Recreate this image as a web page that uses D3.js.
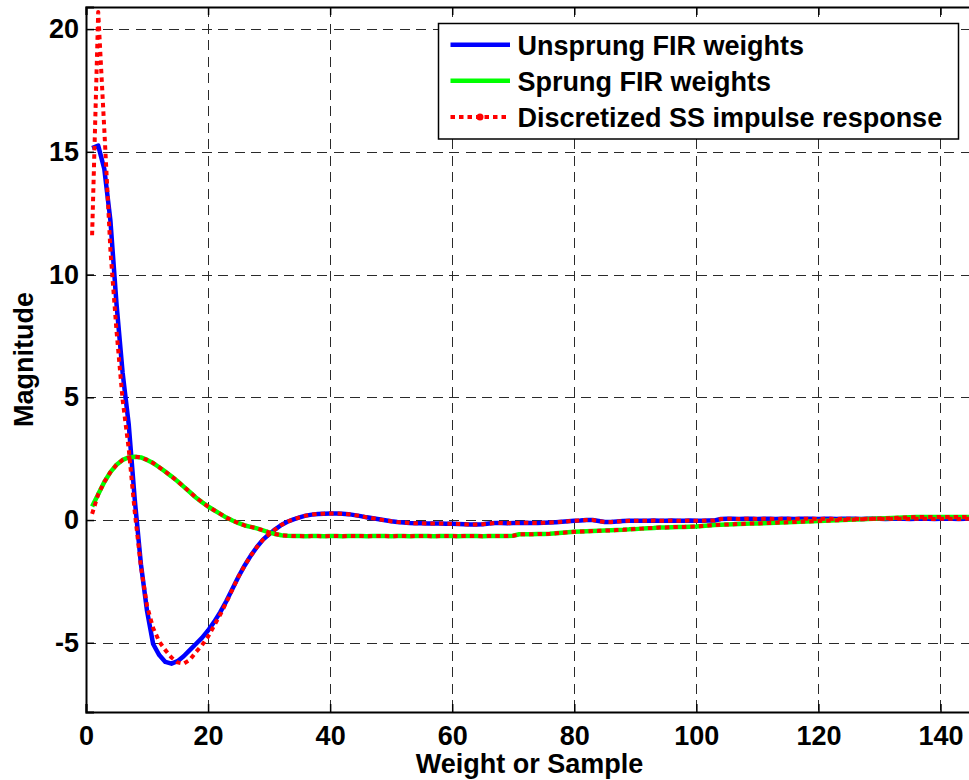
<!DOCTYPE html>
<html>
<head>
<meta charset="utf-8">
<script src="https://cdn.jsdelivr.net/npm/d3@7"></script>
<style>
  html, body { margin: 0; padding: 0; background: #fff; }
  svg { display: block; }
  text { font-family: "Liberation Sans", Arial, Helvetica, sans-serif; font-weight: bold; fill: #000; }
</style>
</head>
<body>
<svg id="chart" width="969" height="780"></svg>
<script>
// FIR weight estimates versus the discretized state-space impulse response.
const unsprungFIR = [
  15.15, 15.25, 14.3, 12.2, 8.8, 6.0, 3.9, 0.8, -1.8, -3.7,
  -5.05, -5.5, -5.78, -5.85, -5.75, -5.55, -5.3, -5.05, -4.8, -4.5,
  -4.15, -3.75, -3.3, -2.8, -2.3, -1.85, -1.45, -1.1, -0.8, -0.58,
  -0.38, -0.2, -0.07, 0.03, 0.11, 0.18, 0.22, 0.25, 0.26, 0.27,
  0.27, 0.26, 0.24, 0.2, 0.16, 0.11, 0.07, 0.03, -0.01, -0.05,
  -0.08, -0.1, -0.12, -0.13, -0.13, -0.14, -0.14, -0.14, -0.15, -0.15,
  -0.16, -0.17, -0.18, -0.18, -0.17, -0.14, -0.12, -0.12, -0.13, -0.12,
  -0.12, -0.11, -0.12, -0.12, -0.11, -0.1, -0.09, -0.07, -0.05, -0.03,
  -0.02, 0.0, 0.0, -0.04, -0.08, -0.08, -0.06, -0.04, -0.03, -0.03,
  -0.03, -0.03, -0.02, -0.03, -0.03, -0.02, -0.03, -0.03, -0.02, -0.03,
  -0.03, -0.02, -0.02, 0.04, 0.05, 0.05, 0.04, 0.05, 0.05, 0.04,
  0.05, 0.05, 0.04, 0.05, 0.05, 0.04, 0.05, 0.05, 0.05, 0.04,
  0.05, 0.05, 0.04, 0.05, 0.05, 0.05, 0.04, 0.05, 0.05, 0.05,
  0.04, 0.05, 0.05, 0.05, 0.04, 0.05, 0.05, 0.05, 0.04, 0.05,
  0.05, 0.05, 0.04, 0.05, 0.05
];

const sprungFIR = [
  0.55, 1.05, 1.55, 1.95, 2.25, 2.45, 2.55, 2.58, 2.55, 2.45,
  2.32, 2.15, 1.97, 1.78, 1.58, 1.36, 1.14, 0.92, 0.73, 0.55,
  0.4, 0.25, 0.1, -0.02, -0.13, -0.22, -0.28, -0.34, -0.42, -0.5,
  -0.57, -0.62, -0.64, -0.65, -0.65, -0.66, -0.65, -0.65, -0.66, -0.65,
  -0.65, -0.66, -0.65, -0.65, -0.65, -0.66, -0.65, -0.65, -0.65, -0.66,
  -0.65, -0.65, -0.66, -0.65, -0.65, -0.65, -0.66, -0.65, -0.65, -0.65,
  -0.66, -0.65, -0.65, -0.65, -0.66, -0.65, -0.65, -0.65, -0.65, -0.64,
  -0.58, -0.58, -0.58, -0.57, -0.57, -0.56, -0.54, -0.52, -0.5, -0.48,
  -0.47, -0.46, -0.45, -0.44, -0.43, -0.42, -0.41, -0.4, -0.38, -0.37,
  -0.35, -0.33, -0.32, -0.3, -0.3, -0.29, -0.28, -0.28, -0.27, -0.26,
  -0.24, -0.22, -0.2, -0.19, -0.18, -0.17, -0.16, -0.15, -0.14, -0.14,
  -0.13, -0.12, -0.11, -0.1, -0.09, -0.08, -0.07, -0.06, -0.05, -0.04,
  -0.03, -0.02, -0.01, 0.0, 0.01, 0.02, 0.03, 0.04, 0.05, 0.06,
  0.07, 0.08, 0.09, 0.1, 0.11, 0.12, 0.12, 0.12, 0.12, 0.12,
  0.12, 0.12, 0.12, 0.12, 0.12
];

// Discretized state-space impulse response, unsprung and sprung outputs
const ssUnsprung = [
  11.6, 20.7, 15.9, 11.0, 7.7, 4.9, 2.9, 0.3, -1.9, -3.5,
  -4.4, -4.95, -5.3, -5.6, -5.8, -5.85, -5.7, -5.38, -5.1, -4.75,
  -4.3, -3.85, -3.35, -2.82, -2.3, -1.85, -1.45, -1.1, -0.8, -0.58,
  -0.38, -0.2, -0.07, 0.03, 0.11, 0.18, 0.22, 0.25, 0.26, 0.27,
  0.27, 0.26, 0.24, 0.2, 0.16, 0.11, 0.07, 0.03, -0.01, -0.05,
  -0.08, -0.1, -0.12, -0.13, -0.13, -0.14, -0.14, -0.14, -0.15, -0.15,
  -0.16, -0.17, -0.18, -0.18, -0.17, -0.14, -0.12, -0.12, -0.13, -0.12,
  -0.12, -0.11, -0.12, -0.12, -0.11, -0.1, -0.09, -0.07, -0.05, -0.03,
  -0.02, 0.0, 0.0, -0.04, -0.08, -0.08, -0.06, -0.04, -0.03, -0.03,
  -0.03, -0.03, -0.02, -0.03, -0.03, -0.02, -0.03, -0.03, -0.02, -0.03,
  -0.03, -0.02, -0.02, 0.04, 0.05, 0.05, 0.04, 0.05, 0.05, 0.04,
  0.05, 0.05, 0.04, 0.05, 0.05, 0.04, 0.05, 0.05, 0.05, 0.04,
  0.05, 0.05, 0.04, 0.05, 0.05, 0.05, 0.04, 0.05, 0.05, 0.05,
  0.04, 0.05, 0.05, 0.05, 0.04, 0.05, 0.05, 0.05, 0.04, 0.05,
  0.05, 0.05, 0.04, 0.05, 0.05
];

const ssSprung = [
  0.25, 1.05, 1.55, 1.95, 2.25, 2.45, 2.55, 2.58, 2.55, 2.45,
  2.32, 2.15, 1.97, 1.78, 1.58, 1.36, 1.14, 0.92, 0.73, 0.55,
  0.4, 0.25, 0.1, -0.02, -0.13, -0.22, -0.28, -0.34, -0.42, -0.5,
  -0.57, -0.62, -0.64, -0.65, -0.65, -0.66, -0.65, -0.65, -0.66, -0.65,
  -0.65, -0.66, -0.65, -0.65, -0.65, -0.66, -0.65, -0.65, -0.65, -0.66,
  -0.65, -0.65, -0.66, -0.65, -0.65, -0.65, -0.66, -0.65, -0.65, -0.65,
  -0.66, -0.65, -0.65, -0.65, -0.66, -0.65, -0.65, -0.65, -0.65, -0.64,
  -0.58, -0.58, -0.58, -0.57, -0.57, -0.56, -0.54, -0.52, -0.5, -0.48,
  -0.47, -0.46, -0.45, -0.44, -0.43, -0.42, -0.41, -0.4, -0.38, -0.37,
  -0.35, -0.33, -0.32, -0.3, -0.3, -0.29, -0.28, -0.28, -0.27, -0.26,
  -0.24, -0.22, -0.2, -0.19, -0.18, -0.17, -0.16, -0.15, -0.14, -0.14,
  -0.13, -0.12, -0.11, -0.1, -0.09, -0.08, -0.07, -0.06, -0.05, -0.04,
  -0.03, -0.02, -0.01, 0.0, 0.01, 0.02, 0.03, 0.04, 0.05, 0.06,
  0.07, 0.08, 0.09, 0.1, 0.11, 0.12, 0.12, 0.12, 0.12, 0.12,
  0.12, 0.12, 0.12, 0.12, 0.12
];

const xTicks = [0, 20, 40, 60, 80, 100, 120, 140];
const yTicks = [-5, 0, 5, 10, 15, 20];
const legendLabels = ["Unsprung FIR weights", "Sprung FIR weights", "Discretized SS impulse response"];
const xLabel = "Weight or Sample";
const yLabel = "Magnitude";

const svg = d3.select("#chart");
const plot = { left: 86, right: 971, top: 7, bottom: 712 };

const x = d3.scaleLinear().domain([0, 145]).range([plot.left, plot.right]);
const y = d3.scaleLinear().domain([-7.82, 20.9]).range([plot.bottom, plot.top]);

svg.append("defs").append("clipPath").attr("id", "plotClip")
  .append("rect")
  .attr("x", plot.left).attr("y", plot.top)
  .attr("width", plot.right - plot.left).attr("height", plot.bottom - plot.top);

// dashed grid
const grid = svg.append("g").attr("stroke", "#2a2a2a").attr("stroke-width", 1)
  .attr("stroke-dasharray", "10,6.5").attr("shape-rendering", "crispEdges");
grid.selectAll("line.v").data(xTicks.filter(d => d > 0)).join("line")
  .attr("x1", d => Math.round(x(d)) + 0.5).attr("x2", d => Math.round(x(d)) + 0.5)
  .attr("y1", plot.top).attr("y2", plot.bottom);
grid.selectAll("line.h").data(yTicks).join("line")
  .attr("y1", d => Math.round(y(d)) + 0.5).attr("y2", d => Math.round(y(d)) + 0.5)
  .attr("x1", plot.left).attr("x2", plot.right);

// axes with inward ticks; plain hyphen for negative labels
const fmt = d => String(d);
const xAxis = d3.axisBottom(x).tickValues(xTicks).tickSize(-8).tickPadding(14).tickFormat(fmt);
const yAxis = d3.axisLeft(y).tickValues(yTicks).tickSize(-8).tickPadding(7).tickFormat(fmt);
const xTop = d3.axisTop(x).tickValues(xTicks).tickSize(-8).tickFormat("");

function styleAxis(g) {
  g.select(".domain").attr("stroke", "#000").attr("stroke-width", 2);
  g.selectAll(".tick line").attr("stroke", "#000").attr("stroke-width", 1.5);
  g.selectAll(".tick text").attr("font-size", 27)
    .attr("font-family", "'Liberation Sans', Arial, sans-serif").attr("font-weight", "bold").attr("fill", "#000");
}

svg.append("g").attr("transform", `translate(0,${plot.bottom})`).call(xAxis).call(styleAxis);
svg.append("g").attr("transform", `translate(0,${plot.top})`).call(xTop).call(styleAxis);
svg.append("g").attr("transform", `translate(${plot.left},0)`).call(yAxis).call(styleAxis);

// series
const line = d3.line().x((d, i) => x(i + 1)).y(d => y(d));
const series = svg.append("g").attr("clip-path", "url(#plotClip)").attr("fill", "none")
  .attr("stroke-linejoin", "round");
series.append("path").datum(unsprungFIR).attr("d", line).attr("stroke", "#0000ff").attr("stroke-width", 4.5);
series.append("path").datum(sprungFIR).attr("d", line).attr("stroke", "#00ff00").attr("stroke-width", 4.5);
[ssUnsprung, ssSprung].forEach(s => {
  series.append("path").datum(s).attr("d", line).attr("stroke", "#ff0000")
    .attr("stroke-width", 4).attr("stroke-dasharray", "4.5,4");
});

// axis labels
svg.append("text").attr("x", 529.5).attr("y", 773).attr("text-anchor", "middle")
  .attr("font-size", 27).text(xLabel);
svg.append("text").attr("transform", `translate(33,359.5) rotate(-90)`).attr("text-anchor", "middle")
  .attr("font-size", 27).text(yLabel);

// legend
const legend = svg.append("g");
legend.append("rect").attr("x", 438.5).attr("y", 23.5).attr("width", 520).attr("height", 115.5)
  .attr("fill", "#fff").attr("stroke", "#000").attr("stroke-width", 1.5);
const legendStyles = [
  { stroke: "#0000ff", width: 4.5, dash: null, marker: false },
  { stroke: "#00ff00", width: 4.5, dash: null, marker: false },
  { stroke: "#ff0000", width: 4, dash: "4.5,4", marker: true }
];
const rowY = [44.7, 80.8, 116.9];
legendLabels.forEach((label, i) => {
  const st = legendStyles[i];
  legend.append("line").attr("x1", 450.5).attr("x2", 510).attr("y1", rowY[i]).attr("y2", rowY[i])
    .attr("stroke", st.stroke).attr("stroke-width", st.width).attr("stroke-dasharray", st.dash);
  if (st.marker) {
    legend.append("circle").attr("cx", 480).attr("cy", rowY[i]).attr("r", 3.5).attr("fill", st.stroke);
  }
  legend.append("text").attr("x", 517.5).attr("y", rowY[i] + 9.8).attr("font-size", 27).text(label);
});
</script>
</body>
</html>
